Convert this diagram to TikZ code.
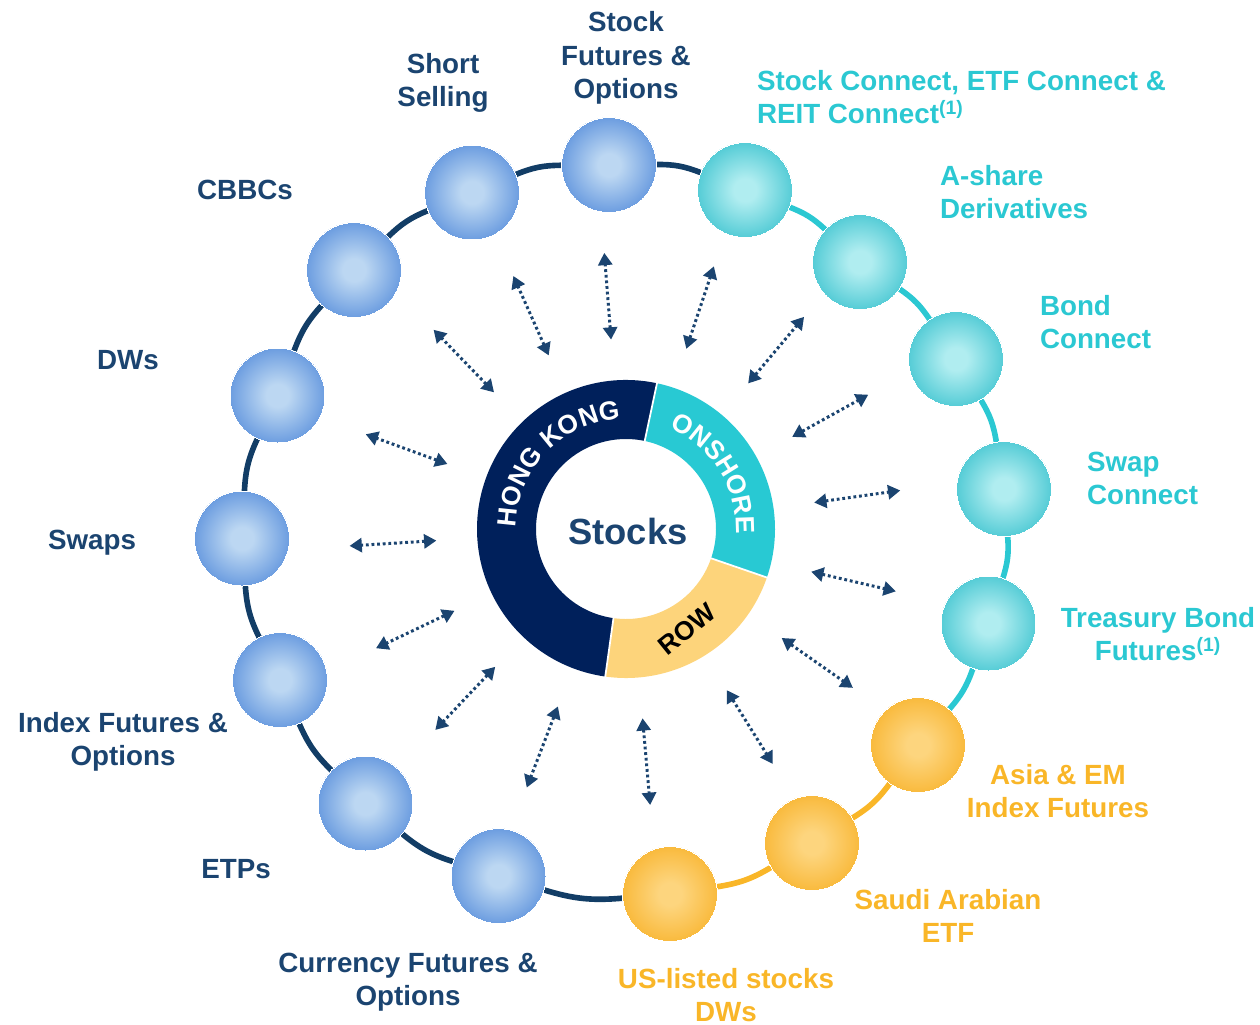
\documentclass[tikz,border=0pt]{standalone}
\usepackage{fontspec}
\setmainfont{Liberation Sans}
\usepackage{tikz-network}
\usetikzlibrary{arrows.meta,decorations.text}

\definecolor{labelnavy}{HTML}{1B4470}
\definecolor{ringnavy}{HTML}{123D66}
\definecolor{hknavy}{HTML}{00205B}
\definecolor{onteal}{HTML}{28C9D3}
\definecolor{rowgold}{HTML}{FDD47B}
\definecolor{linkteal}{HTML}{2BC8D2}
\definecolor{intlgold}{HTML}{F9B628}
\definecolor{bluelight}{HTML}{BCD7F2}
\definecolor{bluedark}{HTML}{6C9DE0}
\definecolor{teallight}{HTML}{B0EDF0}
\definecolor{tealdark}{HTML}{55CCD6}
\definecolor{goldlight}{HTML}{FDD57E}
\definecolor{golddark}{HTML}{F9BA3D}

\pgfdeclareradialshading{blueball}{\pgfpoint{0bp}{0bp}}{color(0bp)=(bluelight); color(6bp)=(bluelight); color(25bp)=(bluedark); color(50bp)=(bluedark)}
\pgfdeclareradialshading{tealball}{\pgfpoint{0bp}{0bp}}{color(0bp)=(teallight); color(6bp)=(teallight); color(25bp)=(tealdark); color(50bp)=(tealdark)}
\pgfdeclareradialshading{goldball}{\pgfpoint{0bp}{0bp}}{color(0bp)=(goldlight); color(6bp)=(goldlight); color(25bp)=(golddark); color(50bp)=(golddark)}

\newcommand\ringfont{\bfseries\fontsize{15}{15}\selectfont}

\begin{document}
\begin{tikzpicture}

\useasboundingbox (0,0) rectangle (25.2,-20.5);

\SetVertexStyle[LineWidth=0pt, LineColor=white, OuterSep=0pt, MinSize=1.9cm]
\SetEdgeStyle[LineWidth=3.2pt, Color=ringnavy]
\SetTextStyle[TextFont=\bfseries\fontsize{15.8}{19}\selectfont]

\tikzset{dotarrow/.style={draw=labelnavy, line width=1.7pt, dash pattern=on 1.6pt off 1.6pt,
  {Triangle[width=8pt,length=7pt]}-{Triangle[width=8pt,length=7pt]}}}

% Hong Kong products
\Vertex[x=12.18,y=-3.30,color=bluelight,style={shade,shading=blueball}]{sfo}
\Vertex[x=9.44,y=-3.85,color=bluelight,style={shade,shading=blueball}]{shs}
\Vertex[x=7.08,y=-5.40,color=bluelight,style={shade,shading=blueball}]{cbb}
\Vertex[x=5.55,y=-7.91,color=bluelight,style={shade,shading=blueball}]{dws}
\Vertex[x=4.84,y=-10.77,color=bluelight,style={shade,shading=blueball}]{swp}
\Vertex[x=5.60,y=-13.60,color=bluelight,style={shade,shading=blueball}]{ifo}
\Vertex[x=7.31,y=-16.07,color=bluelight,style={shade,shading=blueball}]{etp}
\Vertex[x=9.97,y=-17.52,color=bluelight,style={shade,shading=blueball}]{cfo}
% onshore
\Vertex[x=14.90,y=-3.80,color=teallight,style={shade,shading=tealball}]{sc}
\Vertex[x=17.20,y=-5.24,color=teallight,style={shade,shading=tealball}]{ash}
\Vertex[x=19.12,y=-7.18,color=teallight,style={shade,shading=tealball}]{bc}
\Vertex[x=20.08,y=-9.78,color=teallight,style={shade,shading=tealball}]{swc}
\Vertex[x=19.77,y=-12.47,color=teallight,style={shade,shading=tealball}]{tbf}
% rest of world
\Vertex[x=18.36,y=-14.90,color=goldlight,style={shade,shading=goldball}]{aem}
\Vertex[x=16.24,y=-16.86,color=goldlight,style={shade,shading=goldball}]{sae}
\Vertex[x=13.40,y=-17.88,color=goldlight,style={shade,shading=goldball}]{usl}

\Edge[bend=11](sfo)(sc)
\Edge[bend=11,color=linkteal](sc)(ash)
\Edge[bend=11,color=linkteal](ash)(bc)
\Edge[bend=11,color=linkteal](bc)(swc)
\Edge[bend=11,color=linkteal](swc)(tbf)
\Edge[bend=11,color=linkteal](tbf)(aem)
\Edge[bend=11,color=intlgold](aem)(sae)
\Edge[bend=11,color=intlgold](sae)(usl)
\Edge[bend=11](usl)(cfo)
\Edge[bend=11](cfo)(etp)
\Edge[bend=11](etp)(ifo)
\Edge[bend=11](ifo)(swp)
\Edge[bend=11](swp)(dws)
\Edge[bend=11](dws)(cbb)
\Edge[bend=11](cbb)(shs)
\Edge[bend=11](shs)(sfo)

\Text[x=12.52,y=-1.16,color=labelnavy,style={align=center,inner sep=0pt}]{Stock\\Futures \&\\Options}
\Text[x=8.86,y=-1.66,color=labelnavy,style={align=center,inner sep=0pt}]{Short\\Selling}
\Text[x=4.90,y=-3.79,color=labelnavy,style={inner sep=0pt}]{CBBCs}
\Text[x=2.56,y=-7.21,color=labelnavy,style={inner sep=0pt}]{DWs}
\Text[x=1.84,y=-10.86,color=labelnavy,style={inner sep=0pt}]{Swaps}
\Text[x=2.46,y=-14.84,color=labelnavy,style={align=center,inner sep=0pt}]{Index Futures \&\\Options}
\Text[x=4.72,y=-17.39,color=labelnavy,style={inner sep=0pt}]{ETPs}
\Text[x=8.16,y=-19.64,color=labelnavy,style={align=center,inner sep=0pt}]{Currency Futures \&\\Options}
\Text[x=14.52,y=-19.90,color=intlgold,style={align=center,inner sep=0pt}]{US-listed stocks\\DWs}
\Text[x=18.96,y=-18.32,color=intlgold,style={align=center,inner sep=0pt}]{Saudi Arabian\\ETF}
\Text[x=21.16,y=-15.82,color=intlgold,style={align=center,inner sep=0pt}]{Asia \& EM\\Index Futures}
\Text[x=23.16,y=-12.68,color=linkteal,style={align=center,inner sep=0pt}]{Treasury Bond\\Futures\textsuperscript{(1)}}
\Text[x=21.74,y=-9.57,color=linkteal,style={anchor=west,align=left,inner sep=0pt}]{Swap\\Connect}
\Text[x=20.80,y=-6.44,color=linkteal,style={anchor=west,align=left,inner sep=0pt}]{Bond\\Connect}
\Text[x=18.80,y=-3.84,color=linkteal,style={anchor=west,align=left,inner sep=0pt}]{A-share\\Derivatives}
\Text[x=15.14,y=-1.94,color=linkteal,style={anchor=west,align=left,inner sep=0pt}]{Stock Connect, ETF Connect \&\\REIT Connect\textsuperscript{(1)}}

% stocks ring
\coordinate (ctr) at (12.52,-10.58);
\foreach \from/\to/\col in {78/262/hknavy, -19/78/onteal, -98/-19/rowgold}
  \fill[\col] ([shift={(\from:2.98)}]ctr) arc[start angle=\from, end angle=\to, radius=2.98]
    -- ([shift={(\to:1.80)}]ctr) arc[start angle=\to, end angle=\from, radius=1.80] -- cycle;
\foreach \a in {78,-19,-98}
  \draw[white, line width=1pt] ([shift={(\a:1.76)}]ctr) -- ([shift={(\a:3.02)}]ctr);

\path[decorate, decoration={text along path, text align=center, text={|\color{white}\ringfont|HONG KONG}}]
  ([shift={(191:2.20)}]ctr) arc[start angle=191, end angle=81, radius=2.20];
\path[decorate, decoration={text along path, text align=center, text={|\color{white}\ringfont|ONSHORE}}]
  ([shift={(84:2.20)}]ctr) arc[start angle=84, end angle=-20, radius=2.20];
\node[rotate=39, font=\ringfont, text=black, inner sep=0pt] (row) at ([shift={(-58.6:2.34)}]ctr) {ROW};
\node[font=\bfseries\fontsize{20.7}{20.7}\selectfont, text=labelnavy] (stk) at (12.56,-10.62) {Stocks};

% links
\foreach \a [count=\i] in {114,94.5,71.5,50,29,8,-13,-35,-58,-85,-111,-133.5,-154.5,-176.5,160,134}{
  \coordinate (in\i) at ([shift={(\a:3.8)}]ctr);
  \coordinate (out\i) at ([shift={(\a:5.54)}]ctr);
  \draw[dotarrow] (in\i) -- (out\i);
}

\end{tikzpicture}
\end{document}
